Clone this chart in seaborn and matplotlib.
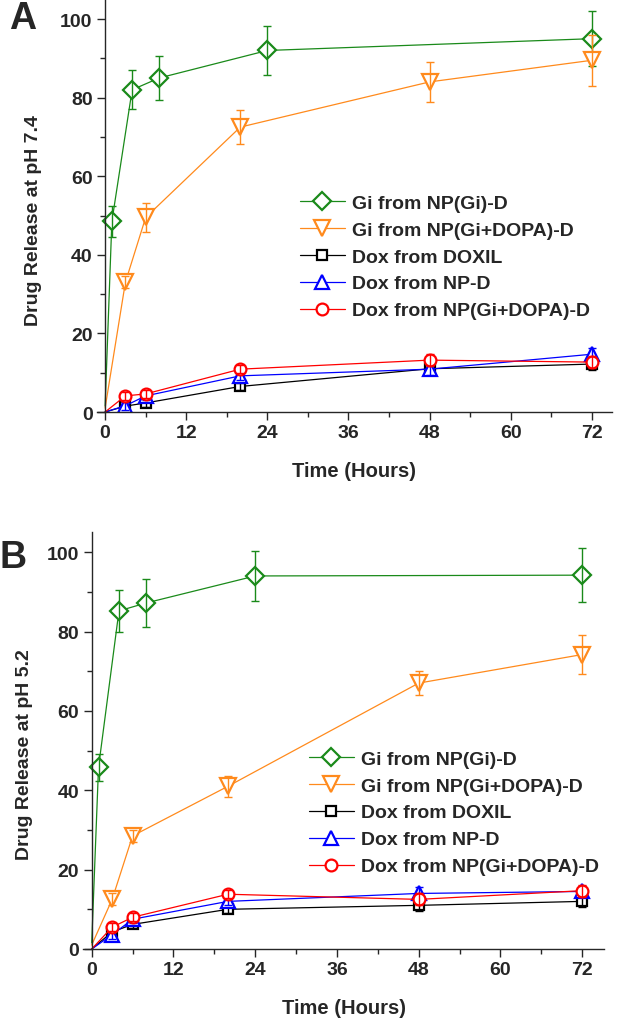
import matplotlib
matplotlib.use("Agg")
import matplotlib.pyplot as plt
from matplotlib.ticker import MultipleLocator
import seaborn as sns

# time points (hours)
t_gi_np = [0, 1, 4, 8, 24, 72]
t_other = [0, 3, 6, 20, 48, 72]

# panel A, pH 7.4
gi_np_a = [1.5, 48.5, 82, 85, 92, 95]
gi_np_a_err = [0, 4, 5, 5.5, 6.2, 7]
gi_dopa_a = [1, 33, 49.5, 72.5, 84, 89.5]
gi_dopa_a_err = [0, 1.5, 3.7, 4.3, 5, 6.5]
doxil_a = [0, 1.5, 2.3, 6.5, 11, 12.2]
np_d_a = [0, 1.6, 4.1, 9.2, 10.9, 14.7]
dox_dopa_a = [0, 4.1, 4.6, 10.9, 13.2, 12.7]
dox_a_err = [0, 1, 1, 1, 1.5, 1.5]

# panel B, pH 5.2
gi_np_b = [1.5, 45.8, 85.2, 87.2, 94, 94.2]
gi_np_b_err = [0, 3.4, 5.2, 6, 6.2, 6.8]
gi_dopa_b = [1, 12.5, 28.5, 41, 67, 74.2]
gi_dopa_b_err = [0, 1.5, 1.5, 2.6, 3, 5]
doxil_b = [0, 4.3, 6.2, 10, 11, 12]
np_d_b = [0, 3.6, 7.5, 12, 14, 14.5]
dox_dopa_b = [0, 5.5, 8, 13.8, 12.5, 14.7]
dox_b_err = [0, 1, 1, 1, 1.5, 1.5]

labels = ["Gi from NP(Gi)-D", "Gi from NP(Gi+DOPA)-D", "Dox from DOXIL",
          "Dox from NP-D", "Dox from NP(Gi+DOPA)-D"]
colors = ["#1a8a1a", "#ff8a1c", "#000000", "#0000ff", "#ff0000"]
markers = ["D", "v", "s", "^", "o"]
msizes = [9, 11, 7.5, 10, 8.5]

sns.set_style("ticks")
plt.rcParams["font.family"] = ["Liberation Sans", "DejaVu Sans"]
plt.rcParams["font.weight"] = "bold"

fig = plt.figure(figsize=(6.17, 10.2), dpi=100)
W, H = 617, 1020


def panel(rect, xlim, ylim, series, ylabel, ylab_xy, letter, letter_xy, leg_xy):
    ax = fig.add_axes([rect[0] / W, 1 - rect[3] / H, (rect[2] - rect[0]) / W, (rect[3] - rect[1]) / H])
    for (t, y, err), lab, c, m, ms in zip(series, labels, colors, markers, msizes):
        sns.lineplot(x=t, y=y, ax=ax, color=c, marker=m, markersize=ms, mfc="white",
                     mec=c, mew=1.6, lw=0.9, label=lab, markevery=list(range(1, len(t))))
        if err is not None:
            ax.errorbar(t[1:], y[1:], yerr=err[1:], fmt="none", ecolor=c, elinewidth=1.0,
                        capsize=3, capthick=1.0)
    ax.set_xlim(*xlim)
    ax.set_ylim(*ylim)
    ax.spines["left"].set_position(("data", 0))
    sns.despine(ax=ax)
    ax.xaxis.set_major_locator(MultipleLocator(12))
    ax.xaxis.set_minor_locator(MultipleLocator(6))
    ax.yaxis.set_major_locator(MultipleLocator(20))
    ax.yaxis.set_minor_locator(MultipleLocator(10))
    ax.tick_params(which="major", length=6, width=1, labelsize=14, pad=3)
    ax.tick_params(which="minor", length=3.5, width=1)
    for s in ["left", "bottom"]:
        ax.spines[s].set_linewidth(1)
    ax.set_xlabel("Time (Hours)", fontsize=14.5, fontweight="bold", labelpad=14)
    ax.set_ylabel(ylabel, fontsize=14, fontweight="bold")
    ax.yaxis.set_label_coords(*ylab_xy)
    fig.text(letter_xy[0] / W, 1 - letter_xy[1] / H, letter, fontsize=27, fontweight="bold",
             ha="left", va="top")
    ax.legend(loc="upper left", bbox_to_anchor=(leg_xy[0] / W, 1 - leg_xy[1] / H),
              bbox_transform=fig.transFigure, frameon=False,
              handlelength=2.3, handletextpad=0.36, labelspacing=0.48, borderpad=0,
              borderaxespad=0, prop={"weight": "bold", "size": 14})
    return ax


panel((97, 0, 612, 413), (-1.2, 75), (0, 105.1),
      [(t_gi_np, gi_np_a, gi_np_a_err), (t_other, gi_dopa_a, gi_dopa_a_err),
       (t_other, doxil_a, dox_a_err), (t_other, np_d_a, dox_a_err),
       (t_other, dox_dopa_a, dox_a_err)],
      "Drug Release at pH 7.4", (-0.107, 0.467), "A", (9, 1), (300, 195))

panel((83.4, 533.3, 604, 950), (-1.22, 75.2), (0, 105),
      [(t_gi_np, gi_np_b, gi_np_b_err), (t_other, gi_dopa_b, gi_dopa_b_err),
       (t_other, doxil_b, dox_b_err), (t_other, np_d_b, dox_b_err),
       (t_other, dox_dopa_b, dox_b_err)],
      "Drug Release at pH 5.2", (-0.097, 0.469), "B", (0, 540), (309, 751))

fig.savefig("out.png", dpi=100)
